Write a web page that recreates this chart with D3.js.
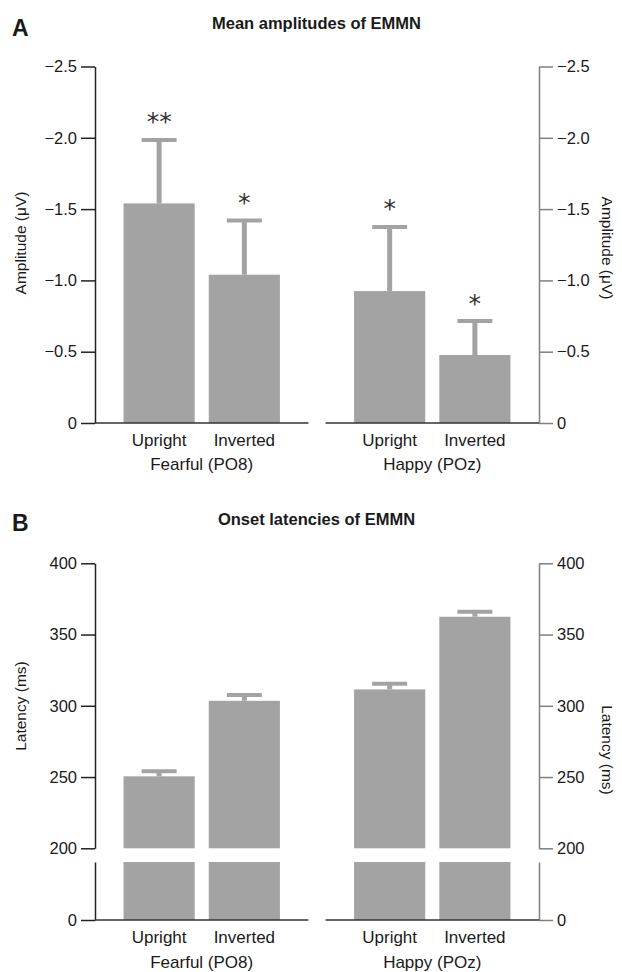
<!DOCTYPE html>
<meta charset="utf-8">
<style>
  body { margin: 0; background: #fff; }
  text { font-family: "Liberation Sans", Arial, sans-serif; fill: #1a1a1a; }
  .title { font-weight: bold; font-size: 16.5px; }
  .letter { font-weight: bold; font-size: 23px; }
  .tick text { font-size: 16.5px; fill: #1a1a1a; }
  .cat { font-size: 17px; }
  .ylab { font-size: 15.5px; }
  .star { font-family: "DejaVu Sans", sans-serif; font-size: 25px; fill: #333; }
  .left .domain, .left .tick line { stroke: #222; stroke-width: 1.5px; }
  .right .domain, .right .tick line { stroke: #808080; stroke-width: 1.5px; }
  .base { stroke: #333; stroke-width: 1.5px; }
  .bar { fill: #a3a3a3; }
  .err { stroke: #a3a3a3; fill: none; }
</style>
<body>
<script src="https://d3js.org/d3.v7.min.js"></script>
<script>

  var groups = ["Fearful (PO8)", "Happy (POz)"],
    conditions = ["Upright", "Inverted"];

  // panel A: mean amplitudes (µV) and error (SE)
  var ampMean = [[-1.54, -1.04], [-0.925, -0.477]],
    ampErr = [[0.445, 0.38], [0.45, 0.238]],
    ampSig = [["**", "*"], ["*", "*"]],
    ampTicks = [0, -0.5, -1.0, -1.5, -2.0, -2.5];

  // panel B: onset latencies (ms)
  var latMean = [[250.5, 303.5], [311.5, 362.5]],
    latErr = [[3.5, 4], [4, 3.5]],
    latTicksUpper = [200, 250, 300, 350, 400],
    latTicksLower = [0];

  var width = 622,
    height = 972,
    xLeft = 95,
    xRight = 539;

  var svg = d3.select("body").append("svg")
    .attr("width", width)
    .attr("height", height);

  var xGroup = d3.scaleBand()
    .domain(groups)
    .range([xLeft, xRight])
    .paddingInner(0.074);

  var xCond = d3.scaleBand()
    .domain(conditions)
    .range([0, xGroup.bandwidth()])
    .paddingInner(0.165)
    .paddingOuter(0.335);

  var bw = xCond.bandwidth(),
    capW = 35;

  function barX(gi, ci) { return xGroup(groups[gi]) + xCond(conditions[ci]); }

  function baseAndLabels(yBase, yCat, yGrp) {
    groups.forEach(function (g) {
      svg.append("line").attr("class", "base")
        .attr("x1", xGroup(g)).attr("x2", xGroup(g) + xGroup.bandwidth())
        .attr("y1", yBase).attr("y2", yBase);
      conditions.forEach(function (c) {
        svg.append("text").attr("class", "cat")
          .attr("x", xGroup(g) + xCond(c) + bw / 2).attr("y", yCat)
          .attr("text-anchor", "middle").text(c);
      });
      svg.append("text").attr("class", "cat")
        .attr("x", xGroup(g) + xGroup.bandwidth() / 2).attr("y", yGrp)
        .attr("text-anchor", "middle").text(g);
    });
  }

  function errorBar(cx, yFrom, yTo) {
    svg.append("line").attr("class", "err").attr("stroke-width", 5)
      .attr("x1", cx).attr("x2", cx).attr("y1", yFrom).attr("y2", yTo);
    svg.append("line").attr("class", "err").attr("stroke-width", 4)
      .attr("x1", cx - capW / 2).attr("x2", cx + capW / 2).attr("y1", yTo).attr("y2", yTo);
  }

  function yLabel(text, x, y, rot) {
    svg.append("text").attr("class", "ylab")
      .attr("transform", "translate(" + x + "," + y + ")rotate(" + rot + ")")
      .attr("text-anchor", "middle").attr("dy", "0.35em").text(text);
  }

  // ---------- Panel A ----------
  var yA = d3.scaleLinear().domain([0, -2.5]).range([423, 66.5]);
  var fmtA = function (d) { return d === 0 ? "0" : d3.format(".1f")(d); };

  svg.append("text").attr("class", "letter").attr("x", 12).attr("y", 36).text("A");
  svg.append("text").attr("class", "title").attr("x", 316.5).attr("y", 29)
    .attr("text-anchor", "middle").text("Mean amplitudes of EMMN");

  ampMean.forEach(function (row, gi) {
    row.forEach(function (v, ci) {
      var x0 = barX(gi, ci), cx = x0 + bw / 2;
      svg.append("rect").attr("class", "bar")
        .attr("x", x0).attr("width", bw)
        .attr("y", yA(v)).attr("height", yA(0) - yA(v));
      var top = yA(v - ampErr[gi][ci]);
      errorBar(cx, yA(v), top);
      svg.append("text").attr("class", "star")
        .attr("x", cx).attr("y", top - 25).attr("dy", "0.62em")
        .attr("text-anchor", "middle").text(ampSig[gi][ci]);
    });
  });

  svg.append("g").attr("class", "left")
    .attr("transform", "translate(" + xLeft + ",0)")
    .call(d3.axisLeft(yA).tickValues(ampTicks).tickFormat(fmtA).tickSize(14).tickSizeOuter(0).tickPadding(4));
  svg.append("g").attr("class", "right")
    .attr("transform", "translate(" + xRight + ",0)")
    .call(d3.axisRight(yA).tickValues(ampTicks).tickFormat(fmtA).tickSize(14).tickSizeOuter(0).tickPadding(4));

  baseAndLabels(yA(0), 446, 470);
  yLabel("Amplitude (\u03bcV)", 21, 243, -90);
  yLabel("Amplitude (\u03bcV)", 607, 248, 90);

  // ---------- Panel B ----------
  var yBu = d3.scaleLinear().domain([200, 400]).range([848.3, 563.3]),
    yBl = d3.scaleLinear().domain([0, 200]).range([920, 862]);

  svg.append("text").attr("class", "letter").attr("x", 12).attr("y", 531).text("B");
  svg.append("text").attr("class", "title").attr("x", 316.5).attr("y", 525)
    .attr("text-anchor", "middle").text("Onset latencies of EMMN");

  latMean.forEach(function (row, gi) {
    row.forEach(function (v, ci) {
      var x0 = barX(gi, ci), cx = x0 + bw / 2;
      svg.append("rect").attr("class", "bar")
        .attr("x", x0).attr("width", bw)
        .attr("y", yBl(200)).attr("height", yBl(0) - yBl(200));
      svg.append("rect").attr("class", "bar")
        .attr("x", x0).attr("width", bw)
        .attr("y", yBu(v)).attr("height", yBu(200) - yBu(v));
      errorBar(cx, yBu(v), yBu(v + latErr[gi][ci]));
    });
  });

  [yBu, yBl].forEach(function (s, i) {
    var tv = i === 0 ? latTicksUpper : latTicksLower;
    svg.append("g").attr("class", "left")
      .attr("transform", "translate(" + xLeft + ",0)")
      .call(d3.axisLeft(s).tickValues(tv).tickSize(14).tickSizeOuter(0).tickPadding(4));
    svg.append("g").attr("class", "right")
      .attr("transform", "translate(" + xRight + ",0)")
      .call(d3.axisRight(s).tickValues(tv).tickSize(14).tickSizeOuter(0).tickPadding(4));
  });

  baseAndLabels(yBl(0), 943, 968);
  yLabel("Latency (ms)", 21, 706, -90);
  yLabel("Latency (ms)", 607, 750, 90);

</script>
